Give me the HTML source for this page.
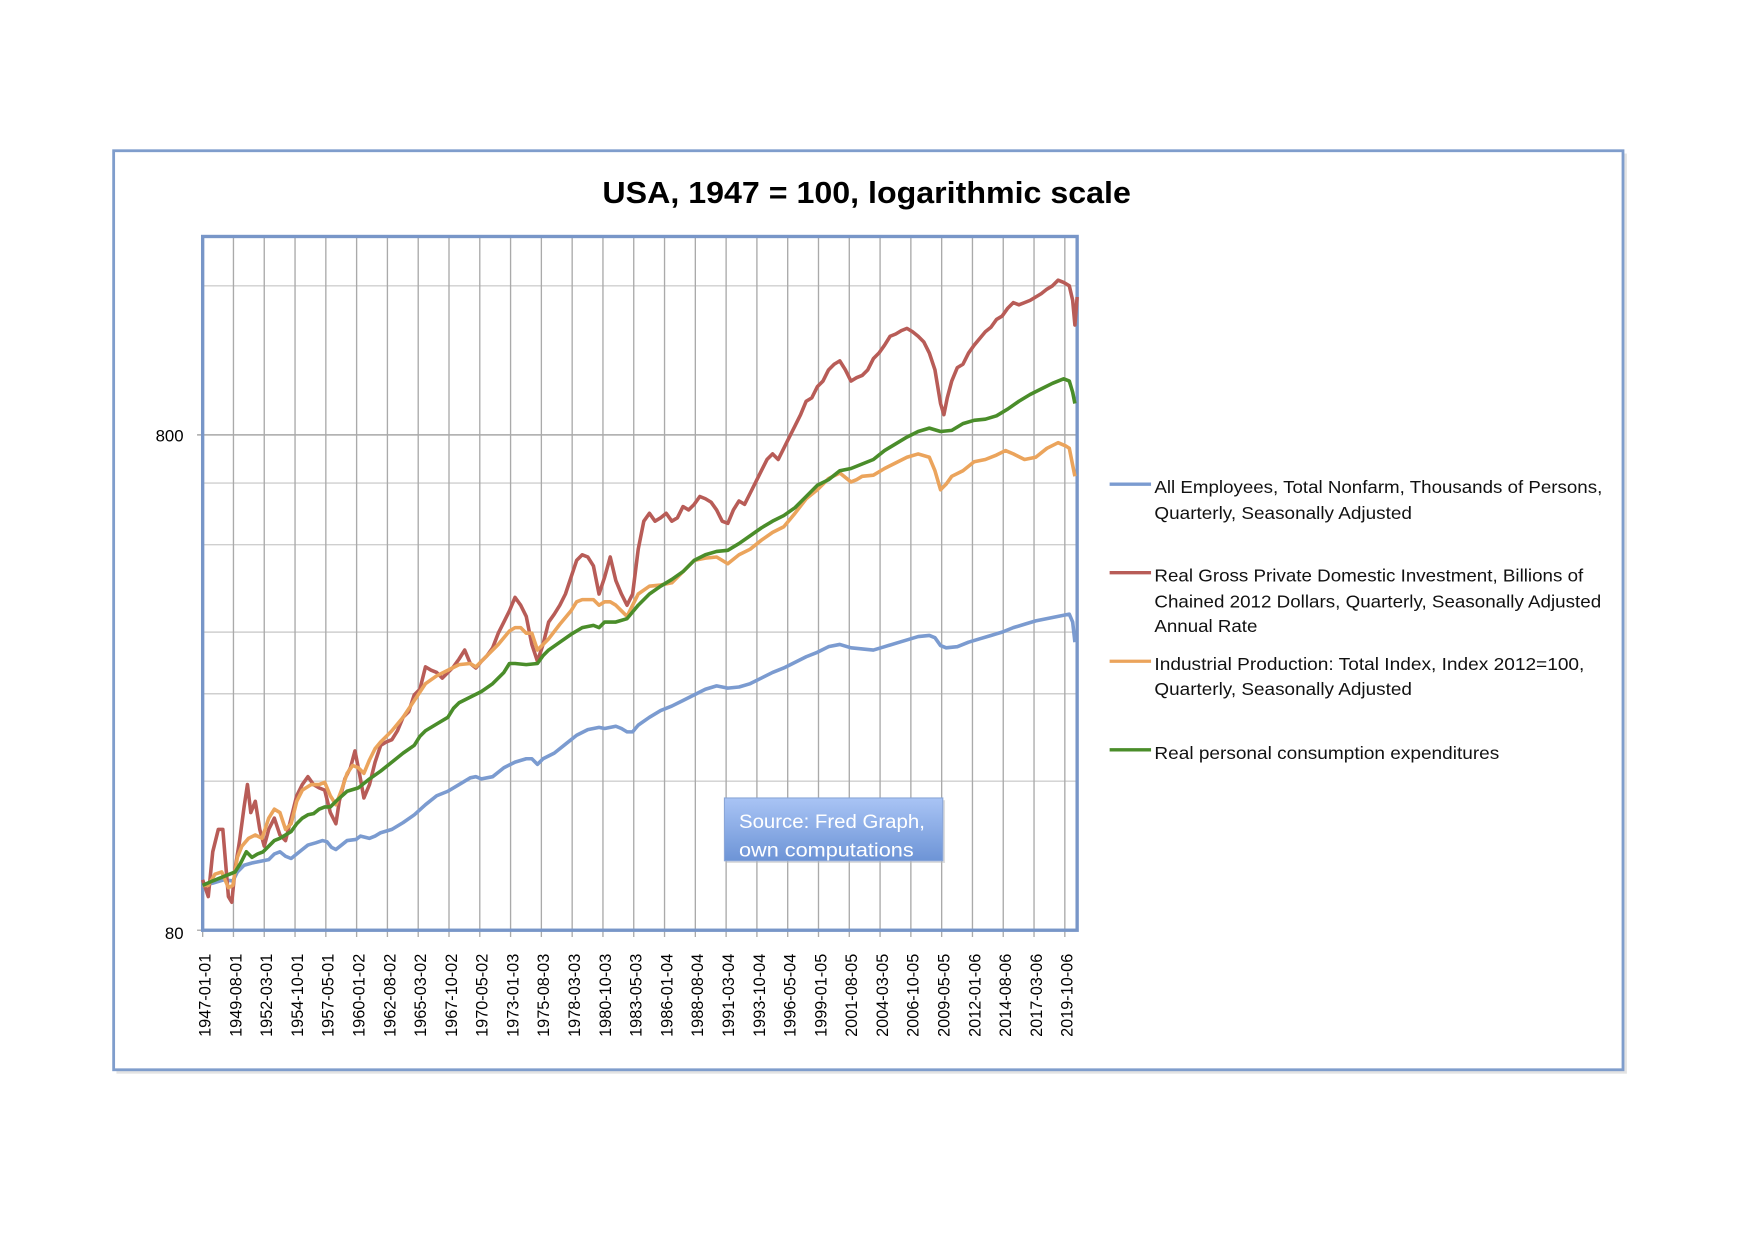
<!DOCTYPE html>
<html><head><meta charset="utf-8"><style>
html,body{margin:0;padding:0;background:#fff;}
svg{display:block;}
text{font-family:"Liberation Sans",sans-serif;}
</style></head><body>
<svg width="1754" height="1239" viewBox="0 0 1566.5 1105.5" preserveAspectRatio="none" xmlns="http://www.w3.org/2000/svg">
<defs>
<linearGradient id="sg" x1="0" y1="0" x2="0" y2="1"><stop offset="0" stop-color="#a9c4f5"/><stop offset="1" stop-color="#6d94d6"/></linearGradient>
</defs>
<rect x="0" y="0" width="1566.5" height="1105.5" fill="#fff"/>
<rect x="104" y="137" width="1349" height="821" fill="#d0d0d0" opacity="0.6"/>
<rect x="101.5" y="134.5" width="1348" height="820" fill="#fff" stroke="#7f9dcc" stroke-width="2.5"/>
<text x="774" y="181" font-size="27" font-weight="bold" text-anchor="middle" textLength="472" lengthAdjust="spacingAndGlyphs">USA, 1947 = 100, logarithmic scale</text>
<g stroke="#cfcfcf" stroke-width="1.3">
<line x1="181" x2="962" y1="255" y2="255"/>
<line x1="181" x2="962" y1="431" y2="431"/>
<line x1="181" x2="962" y1="486" y2="486"/>
<line x1="181" x2="962" y1="564" y2="564"/>
<line x1="181" x2="962" y1="619" y2="619"/>
<line x1="181" x2="962" y1="697" y2="697"/>
</g>
<line x1="176" x2="962" y1="388" y2="388" stroke="#a8a8a8" stroke-width="1.3"/>
<g stroke="#aaaaaa" stroke-width="1.2">
<line x1="208.5" x2="208.5" y1="211" y2="836"/><line x1="236" x2="236" y1="211" y2="836"/><line x1="263.5" x2="263.5" y1="211" y2="836"/><line x1="291" x2="291" y1="211" y2="836"/><line x1="318.5" x2="318.5" y1="211" y2="836"/><line x1="346" x2="346" y1="211" y2="836"/><line x1="373.5" x2="373.5" y1="211" y2="836"/><line x1="401" x2="401" y1="211" y2="836"/><line x1="428.5" x2="428.5" y1="211" y2="836"/><line x1="456" x2="456" y1="211" y2="836"/><line x1="483.5" x2="483.5" y1="211" y2="836"/><line x1="511" x2="511" y1="211" y2="836"/><line x1="538.5" x2="538.5" y1="211" y2="836"/><line x1="566" x2="566" y1="211" y2="836"/><line x1="593.5" x2="593.5" y1="211" y2="836"/><line x1="621" x2="621" y1="211" y2="836"/><line x1="648.5" x2="648.5" y1="211" y2="836"/><line x1="676" x2="676" y1="211" y2="836"/><line x1="703.5" x2="703.5" y1="211" y2="836"/><line x1="731" x2="731" y1="211" y2="836"/><line x1="758.5" x2="758.5" y1="211" y2="836"/><line x1="786" x2="786" y1="211" y2="836"/><line x1="813.5" x2="813.5" y1="211" y2="836"/><line x1="841" x2="841" y1="211" y2="836"/><line x1="868.5" x2="868.5" y1="211" y2="836"/><line x1="896" x2="896" y1="211" y2="836"/><line x1="923.5" x2="923.5" y1="211" y2="836"/><line x1="951" x2="951" y1="211" y2="836"/>
<line x1="181" x2="181" y1="830" y2="836"/>
<line x1="176" x2="181" y1="830" y2="830"/>
</g>
<rect x="181" y="211" width="781" height="619" fill="none" stroke="#7896c8" stroke-width="3"/>
<text x="164" y="394" font-size="15" text-anchor="end">800</text>
<text x="164" y="838" font-size="15" text-anchor="end">80</text>
<g font-size="14.5" text-anchor="end">
<text transform="translate(188,851) rotate(-90)">1947-01-01</text><text transform="translate(215.5,851) rotate(-90)">1949-08-01</text><text transform="translate(243,851) rotate(-90)">1952-03-01</text><text transform="translate(270.5,851) rotate(-90)">1954-10-01</text><text transform="translate(298,851) rotate(-90)">1957-05-01</text><text transform="translate(325.5,851) rotate(-90)">1960-01-02</text><text transform="translate(353,851) rotate(-90)">1962-08-02</text><text transform="translate(380.5,851) rotate(-90)">1965-03-02</text><text transform="translate(408,851) rotate(-90)">1967-10-02</text><text transform="translate(435.5,851) rotate(-90)">1970-05-02</text><text transform="translate(463,851) rotate(-90)">1973-01-03</text><text transform="translate(490.5,851) rotate(-90)">1975-08-03</text><text transform="translate(518,851) rotate(-90)">1978-03-03</text><text transform="translate(545.5,851) rotate(-90)">1980-10-03</text><text transform="translate(573,851) rotate(-90)">1983-05-03</text><text transform="translate(600.5,851) rotate(-90)">1986-01-04</text><text transform="translate(628,851) rotate(-90)">1988-08-04</text><text transform="translate(655.5,851) rotate(-90)">1991-03-04</text><text transform="translate(683,851) rotate(-90)">1993-10-04</text><text transform="translate(710.5,851) rotate(-90)">1996-05-04</text><text transform="translate(738,851) rotate(-90)">1999-01-05</text><text transform="translate(765.5,851) rotate(-90)">2001-08-05</text><text transform="translate(793,851) rotate(-90)">2004-03-05</text><text transform="translate(820.5,851) rotate(-90)">2006-10-05</text><text transform="translate(848,851) rotate(-90)">2009-05-05</text><text transform="translate(875.5,851) rotate(-90)">2012-01-06</text><text transform="translate(903,851) rotate(-90)">2014-08-06</text><text transform="translate(930.5,851) rotate(-90)">2017-03-06</text><text transform="translate(958,851) rotate(-90)">2019-10-06</text>
</g>
<g fill="none" stroke-width="3.2" stroke-linejoin="round">
<polyline stroke="#7b9bd0" points="181,790 190,788 200,785 208,786 212,778 218,772 225,770 230,769 235,768 240,767 245,762 250,760 255,764 260,766 265,762 270,758 275,754 282,752 288,750 292,751 296,756 300,758 305,754 310,750 318,749 322,746 330,748 335,746 340,743 350,740 360,734 370,727 380,718 390,710 400,706 410,700 420,694 425,693 430,695 440,693 450,685 460,680 470,677 475,677 480,682 485,677 495,672 505,664 515,656 525,651 535,649 540,650 550,648 555,650 560,653 565,653 570,647 580,640 590,634 600,630 610,625 620,620 630,615 640,612 650,614 660,613 670,610 680,605 690,600 700,596 710,591 720,586 730,582 740,577 750,575 760,578 770,579 780,580 790,577 800,574 810,571 820,568 830,567 835,569 840,576 845,578 855,577 865,573 875,570 885,567 895,564 905,560 915,557 925,554 935,552 945,550 955,548 958,555 960,573"/>
<polyline stroke="#b85c57" points="181,785 186,800 190,760 195,740 199,740 204,800 207,805 210,775 214,750 218,720 221,700 224,725 228,715 232,740 236,755 240,740 245,730 250,745 255,750 260,730 265,710 270,700 275,693 280,700 285,703 290,705 295,725 300,735 303,715 308,695 313,685 317,670 321,690 325,712 330,700 335,680 340,665 345,662 350,660 355,652 360,640 365,635 370,620 375,615 380,595 385,598 390,600 395,605 400,600 405,595 410,588 415,580 420,592 425,596 430,590 435,585 440,578 445,565 450,555 455,545 460,533 465,540 470,550 475,575 480,590 485,575 490,555 495,548 500,540 505,530 510,515 515,500 520,495 525,497 530,505 535,530 540,515 545,497 550,518 555,530 560,540 565,530 570,490 575,465 580,458 585,465 590,462 595,458 600,465 605,462 610,452 615,455 620,450 625,443 630,445 635,448 640,455 645,465 650,467 655,455 660,447 665,450 670,440 675,430 680,420 685,410 690,405 695,410 700,400 705,390 710,380 715,370 720,358 725,355 730,345 735,340 740,330 745,325 750,322 755,330 760,340 765,337 770,335 775,330 780,320 785,315 790,308 795,300 800,298 805,295 810,293 815,296 820,300 825,305 830,315 835,330 840,360 843,370 846,355 850,340 855,328 860,325 865,315 870,308 875,302 880,296 885,292 890,285 895,282 900,275 905,270 910,272 915,270 920,268 925,265 930,262 935,258 940,255 945,250 950,252 955,255 958,268 960,290 962,265"/>
<polyline stroke="#eba45c" points="181,790 186,790 192,780 198,778 204,792 208,790 212,765 216,755 222,748 228,745 234,748 240,730 245,722 250,725 255,740 260,735 265,715 270,705 278,700 285,700 290,698 295,710 300,718 305,705 310,690 315,683 320,685 325,690 330,678 335,668 340,662 350,652 360,640 370,625 380,610 390,603 400,598 410,593 420,592 425,595 435,585 445,575 455,563 460,560 465,560 470,565 475,565 480,580 485,575 490,570 500,557 510,545 515,537 520,535 530,535 535,540 540,537 545,537 550,540 555,545 560,550 565,540 570,530 580,523 590,522 600,520 610,510 620,500 630,498 640,497 650,503 660,495 670,490 680,482 690,475 700,470 710,458 720,445 730,437 740,427 750,422 760,430 765,428 770,425 780,424 790,418 800,413 810,408 820,405 830,408 835,420 840,437 845,432 850,425 860,420 870,412 880,410 890,406 898,402 905,405 915,410 925,408 935,400 945,395 952,398 955,400 958,415 960,425"/>
<polyline stroke="#4a8d2a" points="181,790 190,786 200,782 210,778 215,770 220,760 225,765 230,762 235,760 240,755 245,750 250,748 260,742 265,735 270,730 275,727 280,726 285,722 290,720 295,720 300,715 310,706 320,703 330,695 340,688 350,680 360,672 370,665 375,657 380,652 390,646 400,640 405,632 410,627 420,622 430,617 440,610 450,600 455,592 460,592 470,593 480,592 485,585 490,580 500,573 510,566 520,560 530,558 535,560 540,555 550,555 560,552 570,540 580,530 590,523 600,517 610,510 620,500 630,495 640,492 650,491 660,485 670,478 680,471 690,465 700,460 710,453 720,443 730,433 740,428 750,420 760,418 770,414 780,410 790,402 800,396 810,390 820,385 830,382 840,385 850,384 860,378 870,375 880,374 890,371 900,365 910,358 920,352 930,347 940,342 950,338 955,340 958,350 960,360"/>
</g>
<rect x="649" y="714" width="195" height="56" fill="#bbb" opacity="0.5"/>
<rect x="647" y="712" width="195" height="56" fill="url(#sg)" stroke="#8aa6d8" stroke-width="1"/>
<text x="660" y="739" font-size="17.5" fill="#fff" textLength="166" lengthAdjust="spacingAndGlyphs">Source: Fred Graph,</text>
<text x="660" y="764" font-size="17.5" fill="#fff" textLength="156" lengthAdjust="spacingAndGlyphs">own computations</text>
<g stroke-width="3">
<line x1="991" x2="1028" y1="432" y2="432" stroke="#7b9bd0"/>
<line x1="991" x2="1028" y1="511" y2="511" stroke="#b85c57"/>
<line x1="991" x2="1028" y1="590" y2="590" stroke="#eba45c"/>
<line x1="991" x2="1028" y1="669" y2="669" stroke="#4a8d2a"/>
</g>
<g font-size="15.5" fill="#111">
<text x="1031" y="440" textLength="400" lengthAdjust="spacingAndGlyphs">All Employees, Total Nonfarm, Thousands of Persons,</text>
<text x="1031" y="463" textLength="230" lengthAdjust="spacingAndGlyphs">Quarterly, Seasonally Adjusted</text>
<text x="1031" y="519" textLength="383" lengthAdjust="spacingAndGlyphs">Real Gross Private Domestic Investment, Billions of</text>
<text x="1031" y="542" textLength="399" lengthAdjust="spacingAndGlyphs">Chained 2012 Dollars, Quarterly, Seasonally Adjusted</text>
<text x="1031" y="564" textLength="92" lengthAdjust="spacingAndGlyphs">Annual Rate</text>
<text x="1031" y="598" textLength="384" lengthAdjust="spacingAndGlyphs">Industrial Production: Total Index, Index 2012=100,</text>
<text x="1031" y="620" textLength="230" lengthAdjust="spacingAndGlyphs">Quarterly, Seasonally Adjusted</text>
<text x="1031" y="677" textLength="308" lengthAdjust="spacingAndGlyphs">Real personal consumption expenditures</text>
</g>
</svg>
</body></html>
